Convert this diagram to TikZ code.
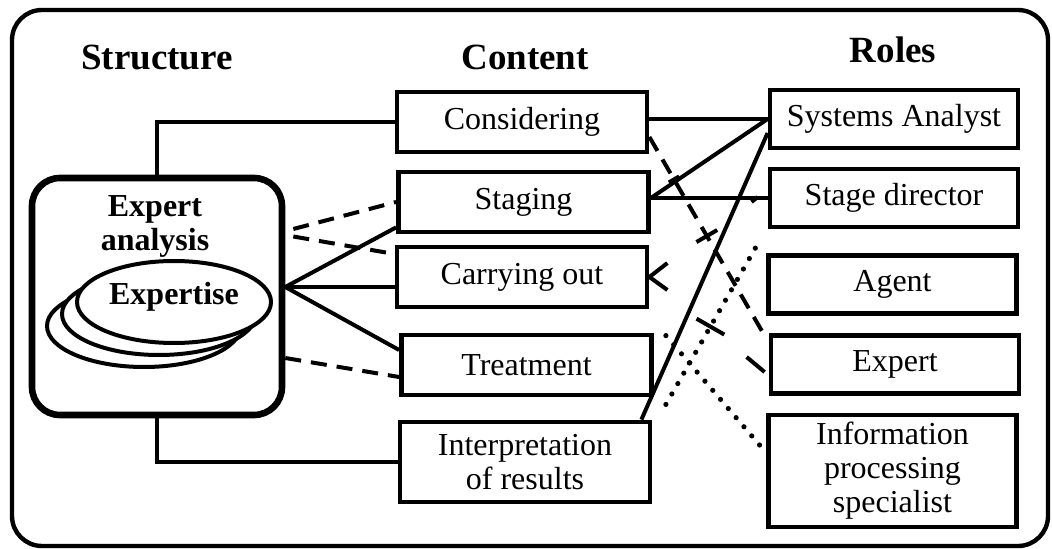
\documentclass[tikz,border=0pt]{standalone}
\usepackage{fontspec}
\setmainfont{Liberation Serif}
\usetikzlibrary{calc,shapes.geometric}

\tikzset{
  box/.style={draw, line width=2.4pt, minimum width=125pt, minimum height=30pt, inner sep=1pt, align=center, font=\fontsize{16}{17}\selectfont},
  rolebox/.style={box, minimum width=124pt, minimum height=29pt},
  head/.style={font=\fontsize{18.5}{20}\selectfont\bfseries},
  skill/.style={draw, ellipse, fill=white, line width=2pt, minimum width=97pt, minimum height=41pt, inner sep=0pt, font=\fontsize{16}{17}\selectfont\bfseries},
  link/.style={line width=2pt},
  dashlink/.style={line width=2pt, dash pattern=on 8pt off 5pt},
  dotlink/.style={line width=2.6pt, line cap=round, dash pattern=on 0pt off 6pt}
}

\begin{document}
\begin{tikzpicture}[x=0.5pt, y=-0.5pt]
\useasboundingbox (0,0) rectangle (1052,549);
% frame and column heads
\draw[line width=2.2pt, rounded corners=15pt] (12,10) rectangle (1048,546);
\node[head] (hstruct) at (157,57) {Structure};
\node[head] (hcont) at (525,57) {Content};
\node[head] (hroles) at (893,50) {Roles};

% structure
\node[draw, line width=3.3pt, rounded corners=14pt, minimum width=125pt, minimum height=118.5pt] (ea) at (157,296.5) {};
\node[font=\fontsize{16}{17}\selectfont\bfseries, align=center] (eatext) at (155,226) {Expert\\analysis};
\node[skill] (skill3) at (144,326) {};
\node[skill] (skill2) at (159,314) {};
\node[skill] (skill1) at (174,302) {};
\node[font=\fontsize{16}{17}\selectfont\bfseries] (skilltext) at (174,297) {Expertise};

% content
\node[box] (cons) at (522,122) {Considering};
\node[box] (stag) at (523.5,202) {Staging};
\node[box] (carr) at (522,277) {Carrying out};
\node[box] (treat) at (526.5,365) {Treatment};
\node[box, minimum height=40pt] (interp) at (525,462) {Interpretation\\of results};

% roles
\node[rolebox] (sysan) at (894,119) {Systems Analyst};
\node[rolebox] (stdir) at (894,198) {Stage director};
\node[rolebox] (agent) at (892.5,284.5) {Agent};
\node[rolebox] (expt) at (895,364.5) {Expert};
\node[rolebox, minimum height=56pt] (ips) at (892.5,471) {Information\\processing\\specialist};

% structure to content
\coordinate (hub) at ([yshift=4.75pt]ea.east);
\draw[link] (ea.north) -- (ea.north |- cons.west) -- (cons.west);
\draw[link] (ea.south) -- (ea.south |- interp.west) -- (interp.west);
\draw[link] (hub) -- ([yshift=3.5pt]stag.south west);
\draw[link] (hub) -- (hub -| carr.west);
\draw[link] (hub) -- ([yshift=7.5pt]treat.west);
\draw[dashlink] ([xshift=4pt,yshift=33.75pt]ea.east) -- (stag.west);
\draw[dashlink] ([xshift=4pt,yshift=30pt]ea.east) -- ([yshift=11.5pt]carr.west);
\draw[dashlink] ([yshift=-30.75pt]ea.east) -- ([yshift=-6pt]treat.west);

% content to roles
\draw[link] (sysan.west -| cons.east) -- (sysan.west);
\draw[link] ([yshift=2pt]stag.east) -- (sysan.west);
\draw[link] (stdir.west -| stag.east) -- (stdir.west);
\draw[link] ([xshift=-5.5pt]interp.north east) -- ([yshift=-7pt]sysan.west);
\coordinate (d0) at ([yshift=-7.5pt]cons.east);
\coordinate (d1) at ([xshift=-1pt,yshift=-3pt]expt.north west);
\draw[dashlink] (d0) -- (d1) coordinate[pos=0.21] (tk1) coordinate[pos=0.49] (tk2);
\draw[link] ($(tk1)!3pt!90:(d1)$) -- ($(tk1)!3pt!-90:(d1)$);
\draw[link] ($(tk2)!6pt!90:(d1)$) -- ($(tk2)!6pt!-90:(d1)$);
\draw[dotlink] ([xshift=6pt,yshift=-1.5pt]treat.north east) -- ([xshift=-2pt,yshift=11.5pt]ips.west);
\coordinate (e0) at ([xshift=6pt,yshift=-3.5pt]treat.south east);
\coordinate (e1) at ([xshift=-3.5pt,yshift=-4.75pt]stdir.south west);
\draw[dotlink] (e0) -- (e1) coordinate[pos=0.47] (tk3);
\draw[link] ($(tk3)!8pt!90:(e1)$) -- ($(tk3)!8pt!-90:(e1)$);

% arrow marks
\draw[link] ([xshift=9pt,yshift=7pt]carr.east) -- (carr.east) -- ([xshift=9pt,yshift=-6.5pt]carr.east);
\draw[link] ([xshift=-11pt,yshift=3.75pt]expt.west) -- ([xshift=-2pt,yshift=-3.75pt]expt.west);
\draw[link] ([xshift=-8pt,yshift=-2pt]stdir.west) -- ([xshift=-5pt,yshift=0.5pt]stdir.west);
\end{tikzpicture}
\end{document}
